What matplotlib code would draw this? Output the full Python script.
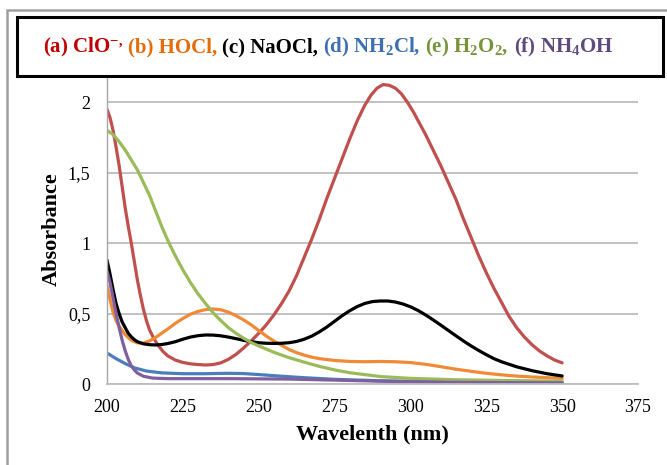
import matplotlib.pyplot as plt
from matplotlib.patches import Rectangle

plt.rcParams['font.family'] = 'Liberation Serif'
plt.rcParams['mathtext.fontset'] = 'custom'
plt.rcParams['mathtext.rm'] = 'Liberation Serif:bold'
plt.rcParams['mathtext.bf'] = 'Liberation Serif:bold'
plt.rcParams['mathtext.default'] = 'bf'

# (a) ClO-
wl_a = [200, 201, 202, 203, 204, 205, 206, 207, 208, 209, 210, 211, 212, 213, 214, 215.5, 217, 218.5, 220,
        222.5, 225, 227.5, 230, 232.5, 235, 237.5, 240, 242.5, 245, 247.5, 250, 252.5, 255, 257.5,
        260, 262.5, 265, 267.5, 270, 272.5, 275, 277.5, 280, 282.5, 285, 287, 289, 291, 293, 295, 297,
        299, 301, 303, 305, 307.5, 310, 312.5, 315, 317.5, 320, 322.5, 325, 327.5, 330, 332.5, 335, 337.5,
        340, 342.5, 345, 347.5, 350]
abs_a = [1.95, 1.89, 1.80, 1.68, 1.55, 1.40, 1.25, 1.12, 1.0, 0.87, 0.74, 0.63, 0.53, 0.45, 0.385, 0.32,
         0.27, 0.23, 0.20, 0.17, 0.153, 0.143, 0.138, 0.135, 0.138, 0.15, 0.175, 0.21, 0.255, 0.305,
         0.36, 0.42, 0.49, 0.57, 0.66, 0.77, 0.90, 1.03, 1.17, 1.32, 1.46, 1.60, 1.74, 1.87, 1.98, 2.05,
         2.10, 2.125, 2.12, 2.10, 2.06, 2.0, 1.93, 1.85, 1.77, 1.66, 1.55, 1.43, 1.31, 1.17, 1.04, 0.91,
         0.79, 0.68, 0.58, 0.48, 0.40, 0.335, 0.28, 0.235, 0.20, 0.17, 0.15]

# (b) HOCl
wl_b = [200, 201, 202, 203, 204, 206, 208, 210, 212, 214, 216, 218, 220, 222.5, 225, 227.5, 230, 232.5,
        235, 237.5, 240, 242.5, 245, 247.5, 250, 252.5, 255, 257.5, 260, 262.5, 265, 267.5, 270, 275,
        280, 285, 290, 295, 300, 305, 310, 315, 320, 325, 330, 335, 340, 345, 350]
abs_b = [0.70, 0.60, 0.51, 0.45, 0.41, 0.35, 0.31, 0.292, 0.29, 0.305, 0.33, 0.36, 0.39, 0.43, 0.465,
         0.495, 0.515, 0.528, 0.532, 0.527, 0.51, 0.485, 0.455, 0.42, 0.38, 0.34, 0.305, 0.275, 0.245,
         0.222, 0.205, 0.19, 0.18, 0.167, 0.16, 0.158, 0.16, 0.158, 0.152, 0.14, 0.123, 0.105, 0.09,
         0.076, 0.065, 0.056, 0.05, 0.045, 0.04]

# (c) NaOCl
wl_c = [200, 201, 202, 203, 204, 205, 206, 207, 208, 209, 210, 212, 214, 216, 218, 220, 222.5, 225, 227.5,
        230, 232.5, 235, 237.5, 240, 242.5, 245, 247.5, 250, 252.5, 255, 257.5, 260, 262.5, 265, 267.5,
        270, 272.5, 275, 277.5, 280, 282.5, 285, 287.5, 290, 292.5, 295, 297.5, 300, 302.5, 305, 307.5,
        310, 312.5, 315, 317.5, 320, 322.5, 325, 327.5, 330, 335, 340, 345, 350]
abs_c = [0.88, 0.78, 0.67, 0.57, 0.50, 0.44, 0.40, 0.36, 0.335, 0.315, 0.30, 0.285, 0.279, 0.277, 0.28,
         0.287, 0.30, 0.318, 0.333, 0.343, 0.348, 0.347, 0.342, 0.333, 0.322, 0.31, 0.30, 0.293, 0.289,
         0.288, 0.289, 0.293, 0.302, 0.318, 0.34, 0.37, 0.405, 0.445, 0.485, 0.52, 0.55, 0.572, 0.585,
         0.589, 0.589, 0.582, 0.568, 0.548, 0.522, 0.49, 0.455, 0.418, 0.38, 0.342, 0.305, 0.27, 0.238,
         0.208, 0.18, 0.158, 0.122, 0.095, 0.073, 0.057]

# (d) NH2Cl
wl_d = [200, 203, 206, 209, 213, 218, 225, 232, 240, 245, 250, 257, 264, 275, 290, 310, 330, 350]
abs_d = [0.22, 0.18, 0.145, 0.115, 0.092, 0.079, 0.073, 0.073, 0.076, 0.074, 0.067, 0.056, 0.046, 0.033,
         0.023, 0.017, 0.014, 0.012]

# (e) H2O2
wl_e = [200, 202, 204, 206, 208, 210, 212, 214, 216, 218, 220, 222.5, 225, 227.5, 230, 232.5, 235, 237.5,
        240, 242.5, 245, 247.5, 250, 255, 260, 265, 270, 275, 280, 290, 300, 315, 330, 350]
abs_e = [1.80, 1.77, 1.72, 1.66, 1.59, 1.52, 1.43, 1.34, 1.23, 1.12, 1.02, 0.91, 0.81, 0.72, 0.64, 0.57,
         0.505, 0.45, 0.40, 0.36, 0.325, 0.295, 0.27, 0.225, 0.187, 0.155, 0.125, 0.10, 0.08, 0.053,
         0.04, 0.03, 0.025, 0.02]

# (f) NH4OH
wl_f = [200, 201, 202, 203, 204, 205, 206, 207, 208, 209, 210, 212, 215, 220, 240, 260, 280, 300, 325, 350]
abs_f = [0.80, 0.72, 0.61, 0.50, 0.40, 0.31, 0.235, 0.175, 0.13, 0.10, 0.078, 0.055, 0.042, 0.038, 0.038,
         0.035, 0.025, 0.015, 0.01, 0.008]

x_ticks = [200, 225, 250, 275, 300, 325, 350, 375]
y_ticks = [0, 0.5, 1, 1.5, 2]
y_tick_labels = ['0', '0,5', '1', '1,5', '2']

fig = plt.figure(figsize=(6.67, 4.65), dpi=100)
ax = fig.add_axes([107 / 667, 1 - 384 / 465, 531 / 667, 310 / 465])

lw = 2.3
kw = dict(lw=lw, solid_joinstyle='round', solid_capstyle='round')
ax.plot(wl_a, abs_a, color='#C0504D', **kw)
ax.plot(wl_b, abs_b, color='#F08A36', **kw)
ax.plot(wl_c, abs_c, color='black', **kw)
ax.plot(wl_d, abs_d, color='#4A7EBB', **kw)
ax.plot(wl_e, abs_e, color='#9BBB59', **kw)
ax.plot(wl_f, abs_f, color='#7F5F9F', **kw)

ax.set_xlim(200, 375)
ax.set_ylim(0, 2.2)
ax.set_xticks(x_ticks)
ax.set_yticks(y_ticks, y_tick_labels)
ax.yaxis.grid(True, color='#BDBDBD', lw=1.3)
ax.set_axisbelow(True)
for s in ['top', 'right']:
    ax.spines[s].set_visible(False)
ax.spines['left'].set_color('#A6A6A6')
ax.spines['bottom'].set_color('#BDBDBD')
ax.spines['left'].set_linewidth(1.0)
ax.spines['bottom'].set_linewidth(1.3)
ax.tick_params(length=0, labelsize=13)
ax.tick_params(axis='y', pad=12)
ax.tick_params(axis='x', pad=11)

ax.set_xlabel('Wavelenth (nm)', fontsize=16, fontweight='bold', labelpad=6)
ax.set_ylabel('Absorbance', fontsize=16, fontweight='bold', labelpad=4)

# outer frame and title box
fig.patches.append(Rectangle((7 / 667, -0.1), 1.2, 1 - 10 / 465 + 0.1, transform=fig.transFigure,
                             fill=False, edgecolor='#A0A0A0', lw=1.8, zorder=0))
fig.patches.append(Rectangle((17 / 667, 1 - 76 / 465), 646 / 667, 59 / 465, transform=fig.transFigure,
                             facecolor='white', edgecolor='black', lw=2.2, zorder=5))

parts = [
    ('(a) ClO$^{-,}$', '#C00000'),
    ('(b) HOCl,', '#E46C0A'),
    ('(c) NaOCl,', 'black'),
    ('(d) NH$_2$Cl,', '#3E6FAE'),
    ('(e) H$_2$O$_2$,', '#77933C'),
    ('(f) NH$_4$OH', '#604A7B'),
]
fig.canvas.draw()
renderer = fig.canvas.get_renderer()
xpix = 43
for txt, col in parts:
    t = fig.text(xpix / 667, 1 - 47 / 465, txt, color=col, fontsize=15, fontweight='bold',
                 va='center', ha='left', zorder=6)
    bb = t.get_window_extent(renderer)
    xpix = bb.x1 + 5

fig.savefig('out.png', dpi=100)
